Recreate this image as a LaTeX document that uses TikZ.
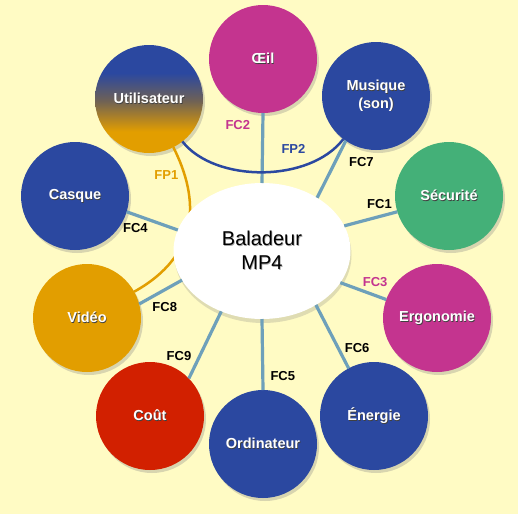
\documentclass[tikz,border=0pt]{standalone}
\usepackage{fontspec}
\setmainfont{Liberation Sans}
\usetikzlibrary{shapes.geometric,shadows}

\definecolor{fond}{RGB}{255,251,196}
\definecolor{bleu}{RGB}{43,72,160}
\definecolor{rose}{RGB}{196,52,143}
\definecolor{vert}{RGB}{68,176,120}
\definecolor{jaune}{RGB}{226,158,0}
\definecolor{rouge}{RGB}{210,32,0}
\definecolor{trait}{RGB}{110,160,186}
\definecolor{brun}{RGB}{112,98,84}

\pgfdeclareverticalshading{degrade}{100bp}{color(0bp)=(jaune); color(35bp)=(jaune); color(49bp)=(brun); color(62bp)=(bleu); color(100bp)=(bleu)}

\newcommand{\ombre}[2][black!75]{\leavevmode\rlap{\hspace{0.7pt}\raisebox{-0.9pt}{\textcolor{#1}{#2}}}#2}

\tikzset{
  fonction/.style={circle, minimum size=108pt, inner sep=0pt, outer sep=0pt, text=white, align=center,
    font=\bfseries\fontsize{14.5}{17.5}\selectfont,
    drop shadow={shadow xshift=2pt, shadow yshift=-3pt, opacity=.3}},
  fc/.style={draw=trait, line width=3.2pt},
  etiq/.style={font=\bfseries\fontsize{13}{15}\selectfont, inner sep=0pt},
}

\begin{document}
\begin{tikzpicture}[x=1pt,y=-1pt]

    \fill[fond] (0,0) rectangle (518,514);

    \begin{scope}[every node/.style={fonction}]
        \node[fill=rose] (oeil) at (263,59) {\ombre{Œil}};
        \node[fill=bleu] (musique) at (376,96) {\ombre{Musique}\\\ombre{(son)}};
        \node[fill=vert] (securite) at (449,196) {\ombre{Sécurité}};
        \node[fill=rose] (ergonomie) at (437,318) {\ombre{Ergonomie}};
        \node[fill=bleu] (energie) at (374,416) {\ombre{Énergie}};
        \node[fill=bleu] (ordinateur) at (263,444) {\ombre{Ordinateur}};
        \node[fill=rouge] (cout) at (150,416) {\ombre{Coût}};
        \node[fill=jaune] (video) at (87,318) {\ombre{Vidéo}};
        \node[fill=bleu] (casque) at (75,196) {\ombre{Casque}};
        \node[shade, shading=degrade] (utilisateur) at (149,99) {\ombre{Utilisateur}};
    \end{scope}

    % FP1 passe sous le baladeur
    \draw[jaune, line width=2.5pt] (utilisateur) .. controls (200,200) and (200,255) ..
        node[etiq, pos=.19, xshift=-19pt, yshift=2pt, text=jaune] {FP1} (video);

    \node[ellipse, fill=white, minimum width=177pt, minimum height=136pt, inner sep=0pt, outer sep=0pt,
          align=center, font=\fontsize{20}{24}\selectfont,
          drop shadow={shadow xshift=1pt, shadow yshift=-4pt, opacity=.25}]
        (centre) at (262,251) {\ombre[black!35]{Baladeur}\\\ombre[black!35]{MP4}};

    \begin{scope}[every edge/.style={fc}]
        \path (centre.90) edge node[etiq, pos=.83, xshift=-25pt, text=rose] {FC2} (oeil.270);
        \path (centre.44) edge node[etiq, pos=.81, xshift=21pt, yshift=-10pt] {FC7} (musique.236);
        \path (centre.17) edge node[etiq, pos=.72, xshift=-3pt, yshift=12pt] {FC1} (securite.197);
        \path (centre.-22) edge node[etiq, pos=.67, xshift=4pt, yshift=12pt, text=rose] {FC3} (ergonomie.160);
        \path (centre.-45) edge node[etiq, pos=.80, xshift=15pt, yshift=8pt] {FC6} (energie.118);
        \path (centre.-90) edge node[etiq, pos=.81, xshift=20pt] {FC5} (ordinateur.90);
        \path (centre.-124) edge node[etiq, pos=.78, xshift=-17pt, yshift=8pt] {FC9} (cout.44);
        \path (centre.200) edge node[etiq, pos=.59, xshift=8pt, yshift=-13pt] {FC8} (video.15);
        \path (centre.166) edge node[etiq, pos=.75, xshift=-4pt, yshift=-12pt] {FC4} (casque.-17);
    \end{scope}

    % FP2 passe au-dessus de FC2
    \draw[bleu, line width=2.5pt] (utilisateur) .. controls (215,183) and (310,183) ..
        node[etiq, pos=.68, xshift=-3pt, yshift=19pt, text=bleu] {FP2} (musique);

\end{tikzpicture}
\end{document}
